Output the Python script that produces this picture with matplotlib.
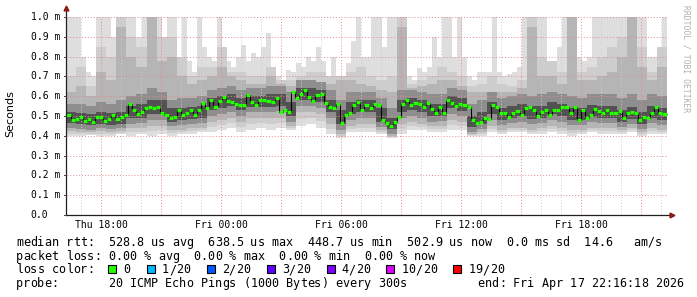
import matplotlib

matplotlib.use("Agg")
import matplotlib.pyplot as plt
import numpy as np
from matplotlib.patches import Rectangle
from matplotlib.transforms import blended_transform_factory

W, H = 697, 297

# hours since Thu 00:00
t_start = 16 + 16 / 60 + 18 / 3600
t_end = t_start + 30

# median rtt in ms, one value per ~12 min
median_ms = [
    0.505, 0.48, 0.483, 0.497, 0.477, 0.487, 0.472, 0.493, 0.493, 0.477,
    0.483, 0.503, 0.483, 0.497, 0.505, 0.563, 0.53, 0.508, 0.522, 0.538,
    0.547, 0.538, 0.547, 0.513, 0.505, 0.488, 0.497, 0.53, 0.505, 0.513,
    0.53, 0.505, 0.53, 0.567, 0.538, 0.58, 0.547, 0.577, 0.597, 0.577,
    0.572, 0.56, 0.555, 0.555, 0.605, 0.572, 0.555, 0.583,
    0.58, 0.577, 0.572, 0.593, 0.522, 0.53, 0.522, 0.622, 0.593, 0.613,
    0.633, 0.597, 0.577, 0.605, 0.613, 0.567, 0.547, 0.538, 0.563, 0.463,
    0.505, 0.513, 0.555, 0.572, 0.53, 0.555, 0.538, 0.563, 0.555, 0.48,
    0.463, 0.45, 0.472, 0.497, 0.563, 0.58, 0.555, 0.567, 0.563, 0.547,
    0.567, 0.533, 0.513, 0.547, 0.513, 0.58, 0.567, 0.55, 0.56, 0.555,
    0.547, 0.48, 0.467, 0.472, 0.488, 0.483, 0.555, 0.547, 0.513, 0.517,
    0.493, 0.513, 0.527, 0.505, 0.538, 0.547, 0.53, 0.50, 0.522, 0.53,
    0.505, 0.53, 0.53, 0.543, 0.543, 0.513, 0.543, 0.48, 0.53, 0.488,
    0.505, 0.533, 0.527, 0.513, 0.53, 0.513, 0.517, 0.527, 0.488, 0.513,
    0.522, 0.517, 0.48, 0.497, 0.488, 0.513, 0.543, 0.513, 0.51,
]

# slowest ping per 15 min (clipped at 1.0 ms by the graph)
smoke_max = [
    1.0, 1.0, 1.0, 0.8, 0.72, 0.7, 1.0, 1.0, 1.0, 0.9,
    0.85, 0.85, 1.0, 1.0, 0.9, 1.0, 1.0, 1.0, 1.0, 0.85,
    1.0, 1.0, 0.8, 1.0, 0.78, 0.72, 1.0, 0.85, 0.8, 0.78,
    1.0, 0.72, 0.78, 0.75, 0.8, 0.86, 0.78, 0.82, 0.8, 0.85,
    0.92, 0.75, 0.7, 0.68, 0.73, 0.72, 0.77, 0.75, 0.8, 0.78,
    0.85, 0.78, 0.7, 0.8, 0.67, 0.7, 0.77, 0.88, 1.0, 0.8,
    0.8, 1.0, 1.0, 0.85, 1.0, 1.0, 0.72, 0.7, 0.7, 0.68,
    0.74, 0.72, 0.75, 0.9, 0.8, 1.0, 1.0, 0.8, 1.0, 0.8,
    0.7, 0.68, 0.72, 0.72, 0.72, 1.0, 0.72, 0.7, 0.71, 0.72,
    0.75, 1.0, 1.0, 1.0, 1.0, 1.0, 0.68, 0.7, 0.85, 1.0,
    1.0, 1.0, 0.8, 0.78, 0.8, 1.0, 1.0, 1.0, 1.0, 1.0,
    1.0, 1.0, 1.0, 1.0, 1.0, 1.0, 0.8, 0.8, 0.82, 1.0,
]

# inner smoke envelopes in ms, one value per 30 min
smoke_hi1 = [
    0.7, 0.75, 0.65, 0.85, 0.8, 1.0, 0.9, 0.85, 1.0, 0.9,
    0.9, 0.8, 0.7, 0.75, 0.75, 0.85, 0.72, 0.72, 0.7, 0.7,
    0.75, 0.68, 0.68, 0.7, 0.72, 0.72, 0.7, 0.7, 0.72, 0.75,
    0.7, 0.68, 0.7, 1.0, 0.66, 0.68, 0.7, 0.75, 0.72, 0.7,
    0.65, 0.66, 0.7, 0.66, 0.65, 0.68, 1.0, 0.8, 0.78, 0.72,
    1.0, 0.72, 0.75, 0.8, 0.85, 0.9, 1.0, 0.85, 0.72, 0.85,
]
smoke_hi2 = [
    0.62, 0.65, 0.6, 0.72, 0.68, 0.95, 0.8, 0.75, 1.0, 0.78,
    0.8, 0.7, 0.66, 0.68, 0.7, 0.75, 0.7, 0.68, 0.66, 0.66,
    0.7, 0.66, 0.65, 0.66, 0.66, 0.66, 0.66, 0.68, 0.68, 0.66,
    0.65, 0.63, 0.62, 0.95, 0.64, 0.65, 0.66, 0.68, 0.68, 0.65,
    0.62, 0.62, 0.62, 0.62, 0.62, 0.64, 0.95, 0.7, 0.7, 0.66,
    1.0, 0.68, 0.68, 0.7, 0.72, 0.8, 1.0, 0.75, 0.68, 0.75,
]
smoke_hi3 = [
    0.56, 0.56, 0.55, 0.57, 0.56, 0.58, 0.60, 0.61, 0.64, 0.62,
    0.58, 0.59, 0.59, 0.60, 0.63, 0.64, 0.65, 0.63, 0.64, 0.64,
    0.65, 0.65, 0.62, 0.68, 0.68, 0.67, 0.63, 0.58, 0.62, 0.62,
    0.62, 0.59, 0.54, 0.63, 0.63, 0.62, 0.61, 0.61, 0.64, 0.63,
    0.56, 0.58, 0.62, 0.59, 0.60, 0.61, 0.60, 0.61, 0.62, 0.61,
    0.60, 0.59, 0.61, 0.61, 0.61, 0.59, 0.61, 0.58, 0.61, 0.60,
]
smoke_hi4 = [
    0.52, 0.515, 0.51, 0.52, 0.515, 0.52, 0.55, 0.56, 0.58, 0.58,
    0.54, 0.54, 0.545, 0.55, 0.59, 0.60, 0.61, 0.59, 0.60, 0.60,
    0.61, 0.61, 0.57, 0.64, 0.64, 0.63, 0.58, 0.53, 0.57, 0.58,
    0.58, 0.54, 0.49, 0.58, 0.59, 0.58, 0.56, 0.56, 0.60, 0.59,
    0.50, 0.52, 0.57, 0.54, 0.55, 0.56, 0.55, 0.55, 0.57, 0.56,
    0.54, 0.54, 0.555, 0.55, 0.55, 0.53, 0.545, 0.52, 0.55, 0.54,
]
smoke_lo4 = [
    0.465, 0.46, 0.455, 0.46, 0.455, 0.46, 0.49, 0.49, 0.51, 0.51,
    0.47, 0.48, 0.485, 0.49, 0.53, 0.54, 0.55, 0.53, 0.545, 0.545,
    0.545, 0.55, 0.50, 0.58, 0.58, 0.57, 0.52, 0.46, 0.51, 0.52,
    0.52, 0.47, 0.435, 0.52, 0.53, 0.52, 0.50, 0.50, 0.54, 0.525,
    0.445, 0.46, 0.51, 0.48, 0.49, 0.50, 0.485, 0.49, 0.51, 0.50,
    0.48, 0.48, 0.495, 0.49, 0.49, 0.47, 0.485, 0.46, 0.49, 0.48,
]
smoke_lo3 = [
    0.44, 0.435, 0.43, 0.44, 0.435, 0.44, 0.46, 0.465, 0.48, 0.48,
    0.45, 0.455, 0.46, 0.465, 0.50, 0.51, 0.52, 0.50, 0.52, 0.52,
    0.52, 0.525, 0.47, 0.55, 0.55, 0.54, 0.49, 0.43, 0.48, 0.49,
    0.49, 0.445, 0.41, 0.49, 0.50, 0.49, 0.47, 0.475, 0.51, 0.50,
    0.42, 0.435, 0.48, 0.455, 0.465, 0.47, 0.46, 0.465, 0.48, 0.47,
    0.455, 0.455, 0.47, 0.465, 0.465, 0.445, 0.46, 0.435, 0.465, 0.455,
]
smoke_lo2 = [
    0.425, 0.42, 0.42, 0.425, 0.42, 0.425, 0.44, 0.44, 0.45, 0.45,
    0.43, 0.43, 0.44, 0.44, 0.47, 0.48, 0.49, 0.47, 0.49, 0.49,
    0.49, 0.49, 0.45, 0.52, 0.52, 0.51, 0.46, 0.41, 0.45, 0.46,
    0.46, 0.43, 0.40, 0.46, 0.47, 0.46, 0.45, 0.45, 0.48, 0.47,
    0.41, 0.42, 0.45, 0.43, 0.44, 0.44, 0.43, 0.44, 0.45, 0.44,
    0.43, 0.43, 0.44, 0.44, 0.44, 0.43, 0.44, 0.42, 0.44, 0.43,
]
smoke_lo1 = [
    0.41, 0.41, 0.41, 0.41, 0.41, 0.415, 0.42, 0.42, 0.425, 0.43,
    0.415, 0.42, 0.425, 0.43, 0.445, 0.455, 0.465, 0.445, 0.46, 0.465,
    0.46, 0.465, 0.44, 0.485, 0.49, 0.475, 0.435, 0.40, 0.435, 0.44,
    0.44, 0.42, 0.395, 0.435, 0.45, 0.445, 0.435, 0.435, 0.455, 0.45,
    0.405, 0.41, 0.435, 0.42, 0.43, 0.43, 0.42, 0.425, 0.435, 0.425,
    0.415, 0.42, 0.43, 0.425, 0.425, 0.42, 0.43, 0.41, 0.425, 0.42,
]
smoke_min = [
    0.40, 0.40, 0.405, 0.40, 0.40, 0.41, 0.40, 0.41, 0.40, 0.41,
    0.40, 0.41, 0.41, 0.42, 0.42, 0.43, 0.44, 0.42, 0.43, 0.44,
    0.43, 0.44, 0.43, 0.45, 0.46, 0.44, 0.41, 0.39, 0.42, 0.42,
    0.42, 0.41, 0.39, 0.41, 0.43, 0.43, 0.42, 0.42, 0.43, 0.43,
    0.40, 0.40, 0.42, 0.41, 0.42, 0.42, 0.41, 0.41, 0.42, 0.41,
    0.40, 0.41, 0.42, 0.41, 0.41, 0.41, 0.42, 0.40, 0.41, 0.41,
]

tick_hours = [18, 24, 30, 36, 42]
tick_labels = ["Thu 18:00", "Fri 00:00", "Fri 06:00", "Fri 12:00", "Fri 18:00"]
y_values = [0.0, 0.1, 0.2, 0.3, 0.4, 0.5, 0.6, 0.7, 0.8, 0.9, 1.0]
y_labels = ["0.0", "0.1 m", "0.2 m", "0.3 m", "0.4 m", "0.5 m",
            "0.6 m", "0.7 m", "0.8 m", "0.9 m", "1.0 m"]

legend_lines = [
    "median rtt:  528.8 us avg  638.5 us max  448.7 us min  502.9 us now  0.0 ms sd  14.6   am/s",
    "packet loss: 0.00 % avg  0.00 % max  0.00 % min  0.00 % now",
    "loss color:",
    "probe:       20 ICMP Echo Pings (1000 Bytes) every 300s",
]
end_text = "end: Fri Apr 17 22:16:18 2026"
loss_labels = ["0", "1/20", "2/20", "3/20", "4/20", "10/20", "19/20"]
loss_colors = ["#26ff00", "#00b8ff", "#0059ff", "#5e00ff", "#7e00ff", "#dd00ff", "#ff0000"]

MONO = "DejaVu Sans Mono"
CHAR_W = 7.1


def fx(px):
    return px / W


def fy(py):
    return 1 - py / H


def mono_text(fig, x0, baseline, s, size=8.5, step=CHAR_W, color="black"):
    # rrdtool lays the legend out on a fixed character grid
    for i, ch in enumerate(s):
        if ch == " ":
            continue
        fig.text(fx(x0 + (i + 0.5) * step), fy(baseline), ch, ha="center",
                 va="baseline", family=MONO, fontsize=size, color=color)


fig = plt.figure(figsize=(W / 100, H / 100), dpi=100)
fig.patch.set_facecolor("white")
ax = fig.add_axes([fx(66.5), fy(215), 601.5 / W, 198 / H])
ax.set_xlim(t_start, t_start + 601.5 / 20)
ax.set_ylim(0, 1.0)
for side in ax.spines.values():
    side.set_visible(False)
ax.set_xticks([])
ax.set_yticks([])

# smoke, outermost pings lightest
fine_edges = np.linspace(t_start, t_end, len(smoke_max) + 1)
ax.stairs(smoke_max, fine_edges, baseline=np.repeat(smoke_min, 2), fill=True,
          color="#dedede", lw=0, zorder=1)
edges = np.linspace(t_start, t_end, len(smoke_hi1) + 1)
bands = [
    (smoke_lo1, smoke_hi1, "#cdcdcd"),
    (smoke_lo2, smoke_hi2, "#b5b5b5"),
    (smoke_lo3, smoke_hi3, "#8e8e8e"),
    (smoke_lo4, smoke_hi4, "#525252"),
]
for lo, hi, c in bands:
    ax.stairs(hi, edges, baseline=lo, fill=True, color=c, lw=0, zorder=1)

# grid
dots = (0, (1, 2))
for v in y_values[1:]:
    ax.axhline(v, color="#e48a8a", lw=0.7, ls=dots, zorder=3)
for h in range(17, 47):
    if h % 3 == 0:
        ax.axvline(h, color="#e48a8a", lw=0.7, ls=dots, zorder=3)
    else:
        ax.axvline(h, color="#cccccc", lw=0.7, ls=dots, zorder=3)

# median
m_edges = np.linspace(t_start, t_end, len(median_ms) + 1)
ax.stairs(median_ms, m_edges, baseline=None, color="black", lw=0.8, zorder=4)
ax.hlines(median_ms, m_edges[:-1], m_edges[1:], color=loss_colors[0], lw=2.3, zorder=5)

# axes with arrows
x_arrow = t_start + 605.5 / 20
ax.plot([t_start, x_arrow], [0, 0], color="#202020", lw=0.9, clip_on=False, zorder=6)
ax.plot([t_start, t_start], [0, 1.04], color="#202020", lw=0.9, clip_on=False, zorder=6)
ax.plot([x_arrow], [0], marker=">", color="#8b1a1a", ms=3.5, clip_on=False, zorder=7)
ax.plot([t_start], [1.045], marker="^", color="#8b1a1a", ms=3.5, clip_on=False, zorder=7)

# tick marks and labels
ylab_tr = blended_transform_factory(fig.transFigure, ax.transData)
xlab_tr = blended_transform_factory(ax.transData, fig.transFigure)
for v, lab in zip(y_values, y_labels):
    ax.plot([t_start - 3 / 20, t_start], [v, v], color="#404040", lw=0.7,
            clip_on=False, zorder=6)
    ax.text(fx(30.5), v, lab, transform=ylab_tr, ha="left", va="center",
            family=MONO, fontsize=7, color="black")
for h, lab in zip(tick_hours, tick_labels):
    ax.text(h, fy(224.5), lab, transform=xlab_tr, ha="center", va="center",
            family=MONO, fontsize=7, color="black")

fig.text(fx(10.5), fy(114), "Seconds", rotation=90, ha="center", va="center",
         family="DejaVu Sans", fontsize=8, color="black")
fig.text(fx(686), fy(5), "RRDTOOL / TOBI OETIKER", rotation=270, ha="center",
         va="top", family=MONO, fontsize=5.8, color="#b0b0b0")

# legend block
baselines = [245.7, 259.6, 273.4, 287.3]
for line, b in zip(legend_lines, baselines):
    mono_text(fig, 16, b, line)
mono_text(fig, 16 + 65 * CHAR_W, baselines[3], end_text)

box_x = 16 + 13 * CHAR_W
for lab, c in zip(loss_labels, loss_colors):
    fig.add_artist(Rectangle((fx(box_x), fy(baselines[2])), 8 / W, 8 / H,
                             transform=fig.transFigure, facecolor=c,
                             edgecolor="black", lw=0.8))
    mono_text(fig, box_x + 15, baselines[2], lab)
    box_x += 15 + len(lab) * CHAR_W + 16.5

fig.savefig("out.png", dpi=100, facecolor="white")
